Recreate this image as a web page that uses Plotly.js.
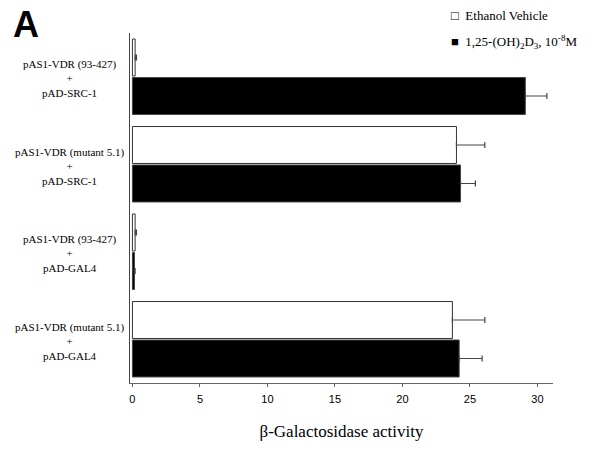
<!DOCTYPE html>
<html>
<head>
<meta charset="utf-8">
<script src="https://cdn.plot.ly/plotly-3.0.1.min.js"></script>
<style>html,body{margin:0;padding:0;background:#fff;}#chart{width:594px;height:450px;}</style>
</head>
<body>
<div id="chart"></div>
<script>
const categories = [
  "pAS1-VDR (93-427)<br>+<br>pAD-SRC-1",
  "pAS1-VDR (mutant 5.1)<br>+<br>pAD-SRC-1",
  "pAS1-VDR (93-427)<br>+<br>pAD-GAL4",
  "pAS1-VDR (mutant 5.1)<br>+<br>pAD-GAL4"
];
const seriesNames = ["Ethanol Vehicle", "1,25-(OH)<sub>2</sub>D<sub>3</sub>, 10<sup>-8</sup>M"];
const legendSymbols = ["□", "■"];
const vehicleValues = [0.2, 24.0, 0.2, 23.7];
const vehicleErrors = [0.1, 2.1, 0.1, 2.4];
const d3Values = [29.1, 24.3, 0.15, 24.2];
const d3Errors = [1.6, 1.1, 0.05, 1.7];
const xTicks = [0, 5, 10, 15, 20, 25, 30];

const serif = "Liberation Serif, Times New Roman, serif";
const sans = "Liberation Sans, Arial, sans-serif";

const errStyle = {type: 'data', symmetric: false, arrayminus: [0,0,0,0], color: '#444', thickness: 1.2, width: 3};

const traces = [
  {type: 'bar', orientation: 'h', name: seriesNames[0], y: categories, x: vehicleValues,
   marker: {color: '#ffffff', line: {color: '#333', width: 1}},
   error_x: Object.assign({}, errStyle, {array: vehicleErrors})},
  {type: 'bar', orientation: 'h', name: seriesNames[1], y: categories, x: d3Values,
   marker: {color: '#000000', line: {color: '#444', width: 1}},
   error_x: Object.assign({}, errStyle, {array: d3Errors})}
];

const annotations = categories.map(c => ({
  xref: 'paper', yref: 'y', x: -0.142, y: c, text: c, showarrow: false,
  align: 'center', xanchor: 'center', yanchor: 'middle', yshift: -2,
  font: {family: serif, size: 11, color: '#000'}
}));
annotations.push({xref: 'paper', yref: 'paper', x: -0.246, y: 1.023, text: '<b>A</b>',
  showarrow: false, xanchor: 'center', yanchor: 'middle',
  font: {family: sans, size: 36, color: '#000'}});
// legend drawn as text entries built from the series names
seriesNames.forEach((n, i) => {
  annotations.push({xref: 'paper', yref: 'paper', x: 0.753, y: 1.051 - i * 0.077,
    text: legendSymbols[i] + '  ' + n, showarrow: false, xanchor: 'left', yanchor: 'middle',
    align: 'left', font: {family: serif, size: 13, color: '#000'}});
});

const layout = {
  width: 594, height: 450,
  margin: {l: 130, r: 41, t: 33, b: 67, autoexpand: false},
  paper_bgcolor: '#fff', plot_bgcolor: '#fff',
  barmode: 'group', bargap: 0.12, bargroupgap: 0.04,
  showlegend: false,
  xaxis: {range: [-0.18, 31.15], tickvals: xTicks, ticks: 'outside', ticklen: 3, tickcolor: '#666',
    showgrid: false, zeroline: false, showline: true, linecolor: '#666', linewidth: 1,
    ticklabelstandoff: 3,
    tickfont: {family: sans, size: 11, color: '#000'},
    title: {text: 'β-Galactosidase activity', font: {family: serif, size: 17, color: '#000'}, standoff: 20}},
  yaxis: {type: 'category', autorange: 'reversed', showticklabels: false, ticks: '',
    showgrid: false, zeroline: false, showline: true, linecolor: '#444', linewidth: 1},
  annotations: annotations
};

Plotly.newPlot('chart', traces, layout, {displayModeBar: false, staticPlot: true});
</script>
</body>
</html>
